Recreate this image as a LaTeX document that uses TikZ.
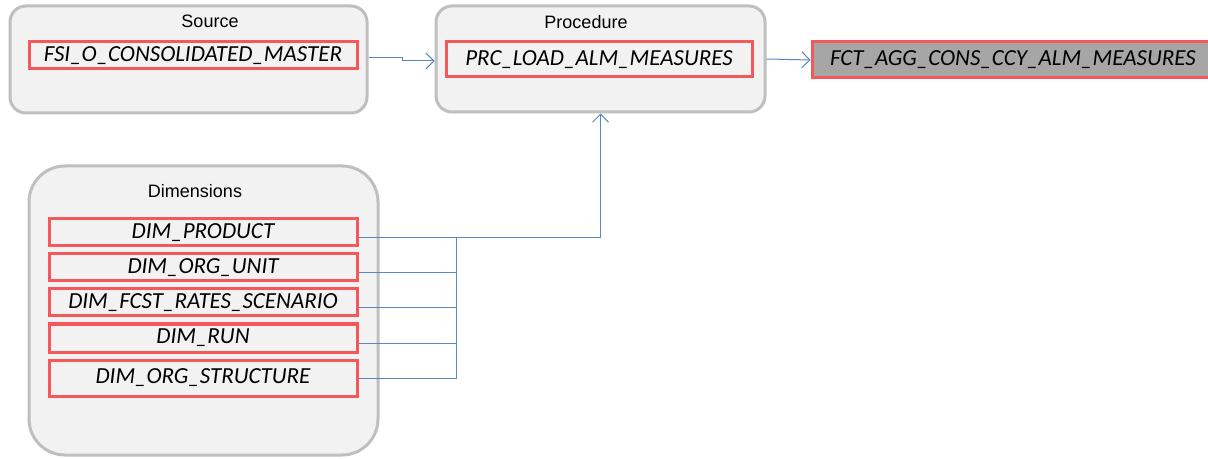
\documentclass[tikz,border=0pt]{standalone}
\usepackage{fontspec}
\setmainfont{Carlito}
\newfontfamily\titlefont{Liberation Sans}
\usetikzlibrary{arrows.meta}
\definecolor{panelfill}{HTML}{F2F2F2}
\definecolor{panelline}{HTML}{BFBFBF}
\definecolor{tablered}{HTML}{F5585A}
\definecolor{linkblue}{HTML}{5B87BF}
\definecolor{targetfill}{HTML}{A6A6A6}

\tikzset{
panel/.style={draw=panelline, fill=panelfill, line width=1.5pt, rounded corners=8pt},
paneltitle/.style={font=\titlefont\fontsize{9}{10}\selectfont, inner sep=0pt},
table/.style={draw=tablered, fill=panelfill, line width=1.5pt, inner sep=0pt,
  font=\itshape\fontsize{11.5}{12}\selectfont, minimum width=154pt},
link/.style={draw=linkblue, line width=0.5pt},
arrow/.style={link, -{Straight Barb[length=4pt,width=8pt]}}
}

\begin{document}
\begin{tikzpicture}[x=0.5pt, y=-0.5pt]
\useasboundingbox (0,0) rectangle (1208,459);

% containers
\node [panel, minimum width=178.5pt, minimum height=53.5pt] (src) at (188.5,59.5) {};
\node [panel, minimum width=164.5pt, minimum height=53pt] (proc) at (600.5,59) {};
\node [panel, rounded corners=18pt, minimum width=174.5pt, minimum height=144.5pt] (dims) at (203.5,310.5) {};

\node [paneltitle] (srctitle) at (210,21) {Source};
\node [paneltitle] (proctitle) at (586,22) {Procedure};
\node [paneltitle] (dimstitle) at (195,191) {Dimensions};

% tables
\node [table, minimum width=164pt, minimum height=13.5pt] (fsi) at (193,55.5) {FSI\_O\_CONSOLIDATED\_MASTER};
\node [table, minimum width=153pt, minimum height=17.5pt] (prc) at (599,59.5) {PRC\_LOAD\_ALM\_MEASURES};
\node [table, fill=targetfill, minimum width=200pt, minimum height=18pt,
  text width=192pt, align=left] (fct) at (1012,60) {\hspace*{5pt}FCT\_AGG\_CONS\_CCY\_ALM\_MEASURES};

\node [table, minimum height=13.5pt] (dimprod) at (203,232.5) {DIM\_PRODUCT};
\node [table, minimum height=13.5pt] (dimunit) at (203,267.5) {DIM\_ORG\_UNIT};
\node [table, minimum height=13.5pt] (dimfcst) at (203,302.5) {DIM\_FCST\_RATES\_SCENARIO};
\node [table, minimum height=14pt] (dimrun) at (203,338) {DIM\_RUN};
\node [table, minimum height=18pt] (dimstruct) at (203,378) {DIM\_ORG\_STRUCTURE};

% connectors
\coordinate (jog) at (402,58);
\coordinate (bus) at (456,237);
\draw [arrow] ([yshift=0.75pt]src.east) -- ([yshift=0.75pt]src.east -| jog) |- ([yshift=-1pt]proc.west);
\draw [arrow] (proc.east) -- (fct.west);
\draw [arrow] ([yshift=-2.5pt]dimprod.east) -| (proc.south);
\draw [link] ([yshift=-2.5pt]dimunit.east) -| (bus);
\draw [link] ([yshift=-2.5pt]dimfcst.east) -| (bus);
\draw [link] ([yshift=-2.5pt]dimrun.east) -| (bus);
\draw [link] (dimstruct.east) -| (bus);
\end{tikzpicture}
\end{document}
